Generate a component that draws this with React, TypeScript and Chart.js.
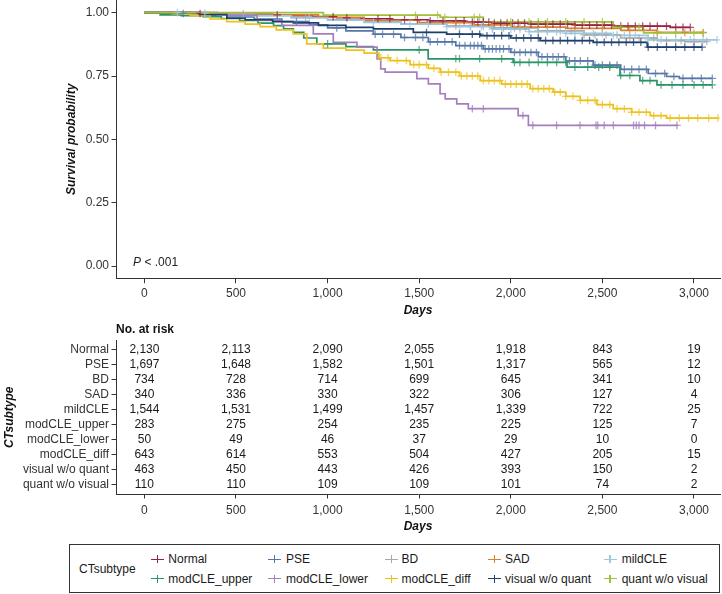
import React, { useEffect, useRef } from "react";
import { Chart, registerables } from "chart.js";

Chart.register(...registerables);

const FONT = '"Liberation Sans", Arial, Helvetica, sans-serif';
Chart.defaults.font.family = FONT;

// ---------- groups ----------
const groupNames = [
  "Normal",
  "PSE",
  "BD",
  "SAD",
  "mildCLE",
  "modCLE_upper",
  "modCLE_lower",
  "modCLE_diff",
  "visual w/o quant",
  "quant w/o visual",
];
const groupColors = [
  "#9A1F45",
  "#5676A8",
  "#A8A8A8",
  "#D9822B",
  "#9CC8E2",
  "#2B9467",
  "#A47FBE",
  "#EEC11C",
  "#1D3F6E",
  "#A2C03C",
];
const censorColors = [
  "rgba(154,31,69,0.75)",
  "rgba(86,118,168,0.75)",
  "rgba(168,168,168,0.75)",
  "rgba(217,130,43,0.75)",
  "rgba(156,200,226,0.8)",
  "rgba(43,148,103,0.75)",
  "rgba(164,127,190,0.8)",
  "rgba(238,193,28,0.75)",
  "rgba(29,63,110,0.75)",
  "rgba(162,192,60,0.75)",
];

// ---------- KM step data (days, survival) ----------
const normalTimes = [0, 250, 450, 630, 800, 920, 1050, 1180, 1350, 1550, 1750, 1900, 2100, 2350, 2560, 2870];
const normalSurv = [1, 0.997, 0.994, 0.991, 0.988, 0.984, 0.98, 0.976, 0.972, 0.968, 0.963, 0.959, 0.955, 0.951, 0.947, 0.942];
const normalEnd = 2980;
const normalCensor = [304, 725, 1030, 1105, 1275, 1340, 1420, 1490, 1560, 1630, 1700, 1745, 1790, 1820, 1850, 1880, 1910, 1945, 1980, 2010, 2040, 2075, 2110, 2150, 2190, 2230, 2270, 2310, 2350, 2390, 2430, 2470, 2510, 2550, 2600, 2640, 2680, 2720, 2760, 2800, 2850, 2900, 2940, 2980];

const pseTimes = [0, 150, 300, 450, 600, 750, 900, 1000, 1100, 1250, 1400, 1550, 1700, 1850, 2000, 2150, 2300, 2450, 2600, 2750, 2850, 2920];
const pseSurv = [1, 0.997, 0.99, 0.983, 0.975, 0.965, 0.952, 0.94, 0.928, 0.915, 0.902, 0.885, 0.87, 0.857, 0.843, 0.826, 0.81, 0.793, 0.776, 0.76, 0.748, 0.741];
const pseEnd = 3100;
const pseCensor = [212, 830, 1050, 1260, 1300, 1360, 1420, 1480, 1520, 1560, 1600, 1640, 1680, 1720, 1750, 1780, 1800, 1820, 1840, 1860, 1880, 1900, 1920, 1940, 1960, 1990, 2020, 2050, 2080, 2110, 2140, 2170, 2200, 2230, 2260, 2290, 2320, 2350, 2380, 2420, 2460, 2500, 2540, 2580, 2620, 2660, 2700, 2740, 2790, 2840, 2890, 2940, 2990, 3040, 3100];

const bdTimes = [0, 350, 600, 800, 1000, 1200, 1400, 1650, 1900, 2150, 2400, 2600, 2800, 2950];
const bdSurv = [1, 0.996, 0.99, 0.982, 0.973, 0.964, 0.955, 0.948, 0.94, 0.928, 0.912, 0.9, 0.89, 0.886];
const bdEnd = 3070;
const bdCensor = [540, 880, 1700, 1780, 1850, 1900, 1960, 2020, 2080, 2150, 2200, 2270, 2330, 2400, 2460, 2520, 2580, 2650, 2700, 2780, 2850, 2930, 3000, 3070];

const sadTimes = [0, 400, 700, 950, 1200, 1500, 1800, 2000, 2300, 2600, 2800];
const sadSurv = [1, 0.997, 0.991, 0.982, 0.97, 0.961, 0.952, 0.943, 0.938, 0.93, 0.922];
const sadEnd = 3050;
const sadCensor = [1700, 1900, 2050, 2200, 2350, 2500, 2650, 2800, 2950, 3050];

const mildTimes = [0, 200, 400, 600, 800, 1000, 1200, 1400, 1650, 1900, 2100, 2300, 2550, 2750];
const mildSurv = [1, 0.998, 0.993, 0.987, 0.979, 0.97, 0.962, 0.955, 0.945, 0.935, 0.925, 0.918, 0.91, 0.893];
const mildEnd = 3126;
const mildCensor = [180, 330, 900, 1250, 1450, 1550, 1650, 1720, 1780, 1840, 1900, 1950, 2000, 2050, 2100, 2150, 2200, 2250, 2300, 2350, 2400, 2450, 2500, 2560, 2620, 2680, 2750, 2820, 2900, 2980, 3050, 3126];

const upperTimes = [0, 86, 200, 320, 420, 520, 620, 705, 760, 813, 870, 941, 1100, 1250, 1549, 2013, 2307, 2596, 2705, 2798];
const upperSurv = [1, 0.991, 0.988, 0.984, 0.977, 0.969, 0.959, 0.949, 0.936, 0.922, 0.9, 0.877, 0.866, 0.853, 0.818, 0.804, 0.785, 0.752, 0.732, 0.715];
const upperEnd = 3100;
const upperCensor = [1000, 1500, 1700, 1720, 1830, 1950, 2020, 2050, 2100, 2150, 2200, 2250, 2300, 2350, 2420, 2480, 2540, 2600, 2650, 2720, 2760, 2820, 2880, 2940, 3000, 3050, 3100];

const lowerTimes = [0, 400, 615, 750, 922, 1031, 1160, 1270, 1290, 1314, 1487, 1550, 1614, 1642, 1705, 1768, 2040, 2096];
const lowerSurv = [1, 0.99, 0.969, 0.95, 0.916, 0.883, 0.864, 0.818, 0.778, 0.765, 0.74, 0.719, 0.68, 0.66, 0.64, 0.621, 0.594, 0.555];
const lowerEnd = 2913;
const lowerCensor = [1790, 1850, 2066, 2120, 2250, 2378, 2465, 2475, 2510, 2560, 2670, 2685, 2700, 2730, 2790, 2907];

const diffTimes = [0, 150, 250, 359, 450, 550, 632, 720, 813, 886, 977, 1100, 1200, 1280, 1341, 1450, 1550, 1614, 1720, 1833, 1950, 2106, 2231, 2300, 2379, 2470, 2559, 2660, 2761, 2850];
const diffSurv = [1, 0.996, 0.988, 0.975, 0.965, 0.955, 0.945, 0.932, 0.916, 0.877, 0.86, 0.852, 0.84, 0.822, 0.811, 0.795, 0.78, 0.765, 0.75, 0.732, 0.718, 0.7, 0.686, 0.67, 0.654, 0.637, 0.621, 0.607, 0.594, 0.584];
const diffEnd = 3131;
const diffCensor = [1290, 1330, 1380, 1430, 1470, 1500, 1540, 1580, 1620, 1660, 1700, 1730, 1760, 1790, 1820, 1850, 1880, 1910, 1940, 1970, 2000, 2030, 2060, 2090, 2120, 2150, 2180, 2210, 2240, 2270, 2300, 2340, 2380, 2420, 2460, 2500, 2540, 2580, 2620, 2660, 2700, 2740, 2780, 2820, 2870, 2920, 2970, 3020, 3080, 3131];

const visualTimes = [0, 300, 450, 550, 700, 813, 950, 1100, 1250, 1468, 1650, 1833, 2000, 2160, 2450, 2745];
const visualSurv = [1, 0.993, 0.978, 0.972, 0.965, 0.96, 0.95, 0.942, 0.936, 0.922, 0.915, 0.909, 0.9, 0.89, 0.883, 0.864];
const visualEnd = 3044;
const visualCensor = [1540, 1720, 1790, 1830, 1870, 1910, 1950, 1990, 2030, 2070, 2110, 2150, 2190, 2230, 2270, 2310, 2350, 2390, 2430, 2470, 2510, 2550, 2590, 2630, 2670, 2710, 2750, 2800, 2850, 2900, 2950, 3000, 3044];

const quantTimes = [0, 977, 1614, 1850, 2559, 2725];
const quantSurv = [1, 0.99, 0.982, 0.964, 0.943, 0.92];
const quantEnd = 3050;
const quantCensor = [1480, 1600, 1640, 1800, 1830, 2000, 2100, 2150, 2200, 2300, 2400, 2500, 2600, 2700, 2800, 2900, 3000, 3050];

// ---------- axes ----------
const xTicks = [0, 500, 1000, 1500, 2000, 2500, 3000];
const yTicks = [0, 0.25, 0.5, 0.75, 1];
const xMin = -155;
const xMax = 3142;
const pValueText = " < .001";
const pValueDay = -62;
const pValueSurv = 0.012;

// ---------- risk table ----------
const riskTimes = [0, 500, 1000, 1500, 2000, 2500, 3000];
const riskNormal = [2130, 2113, 2090, 2055, 1918, 843, 19];
const riskPSE = [1697, 1648, 1582, 1501, 1317, 565, 12];
const riskBD = [734, 728, 714, 699, 645, 341, 10];
const riskSAD = [340, 336, 330, 322, 306, 127, 4];
const riskMild = [1544, 1531, 1499, 1457, 1339, 722, 25];
const riskUpper = [283, 275, 254, 235, 225, 125, 7];
const riskLower = [50, 49, 46, 37, 29, 10, 0];
const riskDiff = [643, 614, 553, 504, 427, 205, 15];
const riskVisual = [463, 450, 443, 426, 393, 150, 2];
const riskQuant = [110, 110, 109, 109, 101, 74, 2];

const groups = [
  { times: normalTimes, surv: normalSurv, end: normalEnd, censor: normalCensor },
  { times: pseTimes, surv: pseSurv, end: pseEnd, censor: pseCensor },
  { times: bdTimes, surv: bdSurv, end: bdEnd, censor: bdCensor },
  { times: sadTimes, surv: sadSurv, end: sadEnd, censor: sadCensor },
  { times: mildTimes, surv: mildSurv, end: mildEnd, censor: mildCensor },
  { times: upperTimes, surv: upperSurv, end: upperEnd, censor: upperCensor },
  { times: lowerTimes, surv: lowerSurv, end: lowerEnd, censor: lowerCensor },
  { times: diffTimes, surv: diffSurv, end: diffEnd, censor: diffCensor },
  { times: visualTimes, surv: visualSurv, end: visualEnd, censor: visualCensor },
  { times: quantTimes, surv: quantSurv, end: quantEnd, censor: quantCensor },
];
const riskRows = [riskNormal, riskPSE, riskBD, riskSAD, riskMild, riskUpper, riskLower, riskDiff, riskVisual, riskQuant];

function survAt(g: { times: number[]; surv: number[] }, t: number) {
  let v = g.surv[0];
  for (let i = 0; i < g.times.length; i++) if (g.times[i] <= t) v = g.surv[i];
  return v;
}

const fmt = (v: number) => Number(v).toLocaleString("en-US");
const AXIS = "#333333";
const TEXT = "#333333";

const noPad = (s: any) => {
  s.paddingTop = 0;
  s.paddingBottom = 0;
  s.paddingLeft = 0;
  s.paddingRight = 0;
};

function KMChart() {
  const ref = useRef<HTMLCanvasElement>(null);
  useEffect(() => {
    if (!ref.current) return;
    const n = groups.length;
    const datasets: any[] = [];
    groups.forEach((g, i) => {
      const pts = g.times.map((t, k) => ({ x: t, y: g.surv[k] }));
      pts.push({ x: g.end, y: g.surv[g.surv.length - 1] });
      datasets.push({
        label: groupNames[i],
        data: pts,
        borderColor: groupColors[i],
        borderWidth: 1.7,
        pointRadius: 0,
        stepped: "before",
        fill: false,
        order: 100 + (n - i),
      });
    });
    groups.forEach((g, i) => {
      datasets.push({
        label: groupNames[i] + " censor",
        data: g.censor.map((t) => ({ x: t, y: survAt(g, t) })),
        showLine: false,
        pointStyle: "cross",
        pointRadius: 3.8,
        pointBorderWidth: 1.3,
        borderColor: censorColors[i],
        backgroundColor: censorColors[i],
        order: n - i,
      });
    });
    const pPlugin = {
      id: "pval",
      afterDatasetsDraw(chart: any) {
        const ctx = chart.ctx;
        const x = chart.scales.x.getPixelForValue(pValueDay);
        const y = chart.scales.y.getPixelForValue(pValueSurv);
        ctx.save();
        ctx.fillStyle = "#222";
        ctx.textBaseline = "middle";
        ctx.textAlign = "left";
        ctx.font = `italic 12px ${FONT}`;
        ctx.fillText("P", x, y);
        const w = ctx.measureText("P").width;
        ctx.font = `12px ${FONT}`;
        ctx.fillText(pValueText, x + w, y);
        ctx.restore();
      },
    };
    const chart = new Chart(ref.current, {
      type: "line",
      data: { datasets },
      plugins: [pPlugin],
      options: {
        animation: false,
        responsive: false,
        events: [],
        layout: { autoPadding: false, padding: { left: 0, right: 2, top: 0, bottom: 0 } },
        plugins: { legend: { display: false }, tooltip: { enabled: false } },
        scales: {
          x: {
            type: "linear",
            min: xMin,
            max: xMax,
            afterBuildTicks: (s: any) => {
              s.ticks = xTicks.map((v) => ({ value: v }));
            },
            afterFit: (s: any) => {
              s.height = 41.3;
              noPad(s);
            },
            grid: { drawOnChartArea: false, tickLength: 4.5, color: AXIS, lineWidth: 1 },
            border: { color: AXIS, width: 1 },
            ticks: { color: TEXT, font: { size: 12 }, padding: 3.5, maxRotation: 0, autoSkip: false, callback: (v: any) => fmt(v) },
            title: { display: true, text: "Days", color: "#111", font: { size: 12, weight: "bold", style: "italic" }, padding: { top: 0, bottom: 1.8 } },
          },
          y: {
            type: "linear",
            min: -0.05,
            max: 1.05,
            afterBuildTicks: (s: any) => {
              s.ticks = yTicks.map((v) => ({ value: v }));
            },
            afterFit: (s: any) => {
              s.width = 116;
              noPad(s);
            },
            grid: { drawOnChartArea: false, tickLength: 4.5, color: AXIS, lineWidth: 1 },
            border: { color: AXIS, width: 1 },
            ticks: { color: TEXT, font: { size: 12 }, padding: 2.5, autoSkip: false, callback: (v: any) => Number(v).toFixed(2) },
            title: { display: true, text: "Survival probability", color: "#111", font: { size: 12, weight: "bold", style: "italic" }, padding: { top: 64, bottom: 0 } },
          },
        },
      } as any,
    });
    return () => chart.destroy();
  }, []);
  return <canvas ref={ref} width={722} height={320} style={{ position: "absolute", left: 0, top: 0, width: 722, height: 320 }} />;
}

function RiskTable() {
  const ref = useRef<HTMLCanvasElement>(null);
  useEffect(() => {
    if (!ref.current) return;
    const tablePlugin = {
      id: "riskText",
      afterDatasetsDraw(chart: any) {
        const ctx = chart.ctx;
        const xs = chart.scales.x;
        const ys = chart.scales.y;
        ctx.save();
        ctx.fillStyle = "#1a1a1a";
        ctx.textBaseline = "middle";
        ctx.textAlign = "center";
        ctx.font = `12px ${FONT}`;
        riskRows.forEach((row, i) => {
          const y = ys.getPixelForValue(i);
          row.forEach((v, j) => {
            ctx.fillText(fmt(v), xs.getPixelForValue(riskTimes[j]), y);
          });
        });
        ctx.textAlign = "left";
        ctx.font = `bold 12px ${FONT}`;
        ctx.fillStyle = "#111";
        ctx.fillText("No. at risk", chart.chartArea.left, chart.chartArea.top - 11);
        ctx.restore();
      },
    };
    const chart = new Chart(ref.current, {
      type: "scatter",
      data: { datasets: [{ data: [], pointRadius: 0 }] },
      plugins: [tablePlugin],
      options: {
        animation: false,
        responsive: false,
        events: [],
        layout: { autoPadding: false, padding: { left: 0, right: 2, top: 20.5, bottom: 0 } },
        plugins: { legend: { display: false }, tooltip: { enabled: false } },
        scales: {
          x: {
            type: "linear",
            min: xMin,
            max: xMax,
            afterBuildTicks: (s: any) => {
              s.ticks = xTicks.map((v) => ({ value: v }));
            },
            afterFit: (s: any) => {
              s.height = 41;
              noPad(s);
            },
            grid: { drawOnChartArea: false, tickLength: 4.5, color: AXIS, lineWidth: 1 },
            border: { color: AXIS, width: 1 },
            ticks: { color: TEXT, font: { size: 12 }, padding: 5, maxRotation: 0, autoSkip: false, callback: (v: any) => fmt(v) },
            title: { display: true, text: "Days", color: "#111", font: { size: 12, weight: "bold", style: "italic" }, padding: { top: 0, bottom: 0.8 } },
          },
          y: {
            type: "linear",
            reverse: true,
            min: -0.6,
            max: groupNames.length - 1 + 0.6,
            afterBuildTicks: (s: any) => {
              s.ticks = groupNames.map((_, i) => ({ value: i }));
            },
            afterFit: (s: any) => {
              s.width = 116;
              noPad(s);
            },
            grid: { drawOnChartArea: false, tickLength: 4.5, color: AXIS, lineWidth: 1 },
            border: { color: AXIS, width: 1 },
            ticks: { color: TEXT, font: { size: 12 }, padding: 2.5, autoSkip: false, callback: (v: any) => groupNames[Math.round(Number(v))] },
            title: { display: true, text: "CTsubtype", color: "#111", font: { size: 12, weight: "bold", style: "italic" }, padding: { top: 2.8, bottom: 0 } },
          },
        },
      } as any,
    });
    return () => chart.destroy();
  }, []);
  return <canvas ref={ref} width={722} height={215} style={{ position: "absolute", left: 0, top: 320, width: 722, height: 215 }} />;
}

const legendRowsY = [559.3, 578.7];
const legendMarkerX = [157.7, 274.3, 391.5, 494.3, 610];
const legendTextX = [168.3, 286, 401.5, 505, 621.7];

function Legend() {
  const items = groupNames.map((name, i) => {
    const row = Math.floor(i / 5);
    const col = i % 5;
    const cy = legendRowsY[row];
    const mx = legendMarkerX[col];
    return (
      <React.Fragment key={name}>
        <div style={{ position: "absolute", left: mx - 6.5, top: cy - 0.75, width: 13, height: 1.5, background: groupColors[i] }} />
        <div style={{ position: "absolute", left: mx - 0.75, top: cy - 4, width: 1.5, height: 8, background: groupColors[i] }} />
        <div style={{ position: "absolute", left: legendTextX[col], top: cy - 8, height: 16, lineHeight: "16px", fontSize: 12, color: "#1a1a1a", whiteSpace: "nowrap" }}>{name}</div>
      </React.Fragment>
    );
  });
  return (
    <>
      <div style={{ position: "absolute", left: 69, top: 544, width: 651, height: 49, border: "1px solid #333", boxSizing: "border-box" }} />
      <div style={{ position: "absolute", left: 79, top: 561, height: 16, lineHeight: "16px", fontSize: 12, color: "#1a1a1a" }}>CTsubtype</div>
      {items}
    </>
  );
}

export default function App() {
  return (
    <div style={{ position: "absolute", left: 0, top: 0, width: 722, height: 594, background: "#fff", overflow: "hidden", fontFamily: FONT }}>
      <KMChart />
      <RiskTable />
      <Legend />
    </div>
  );
}
